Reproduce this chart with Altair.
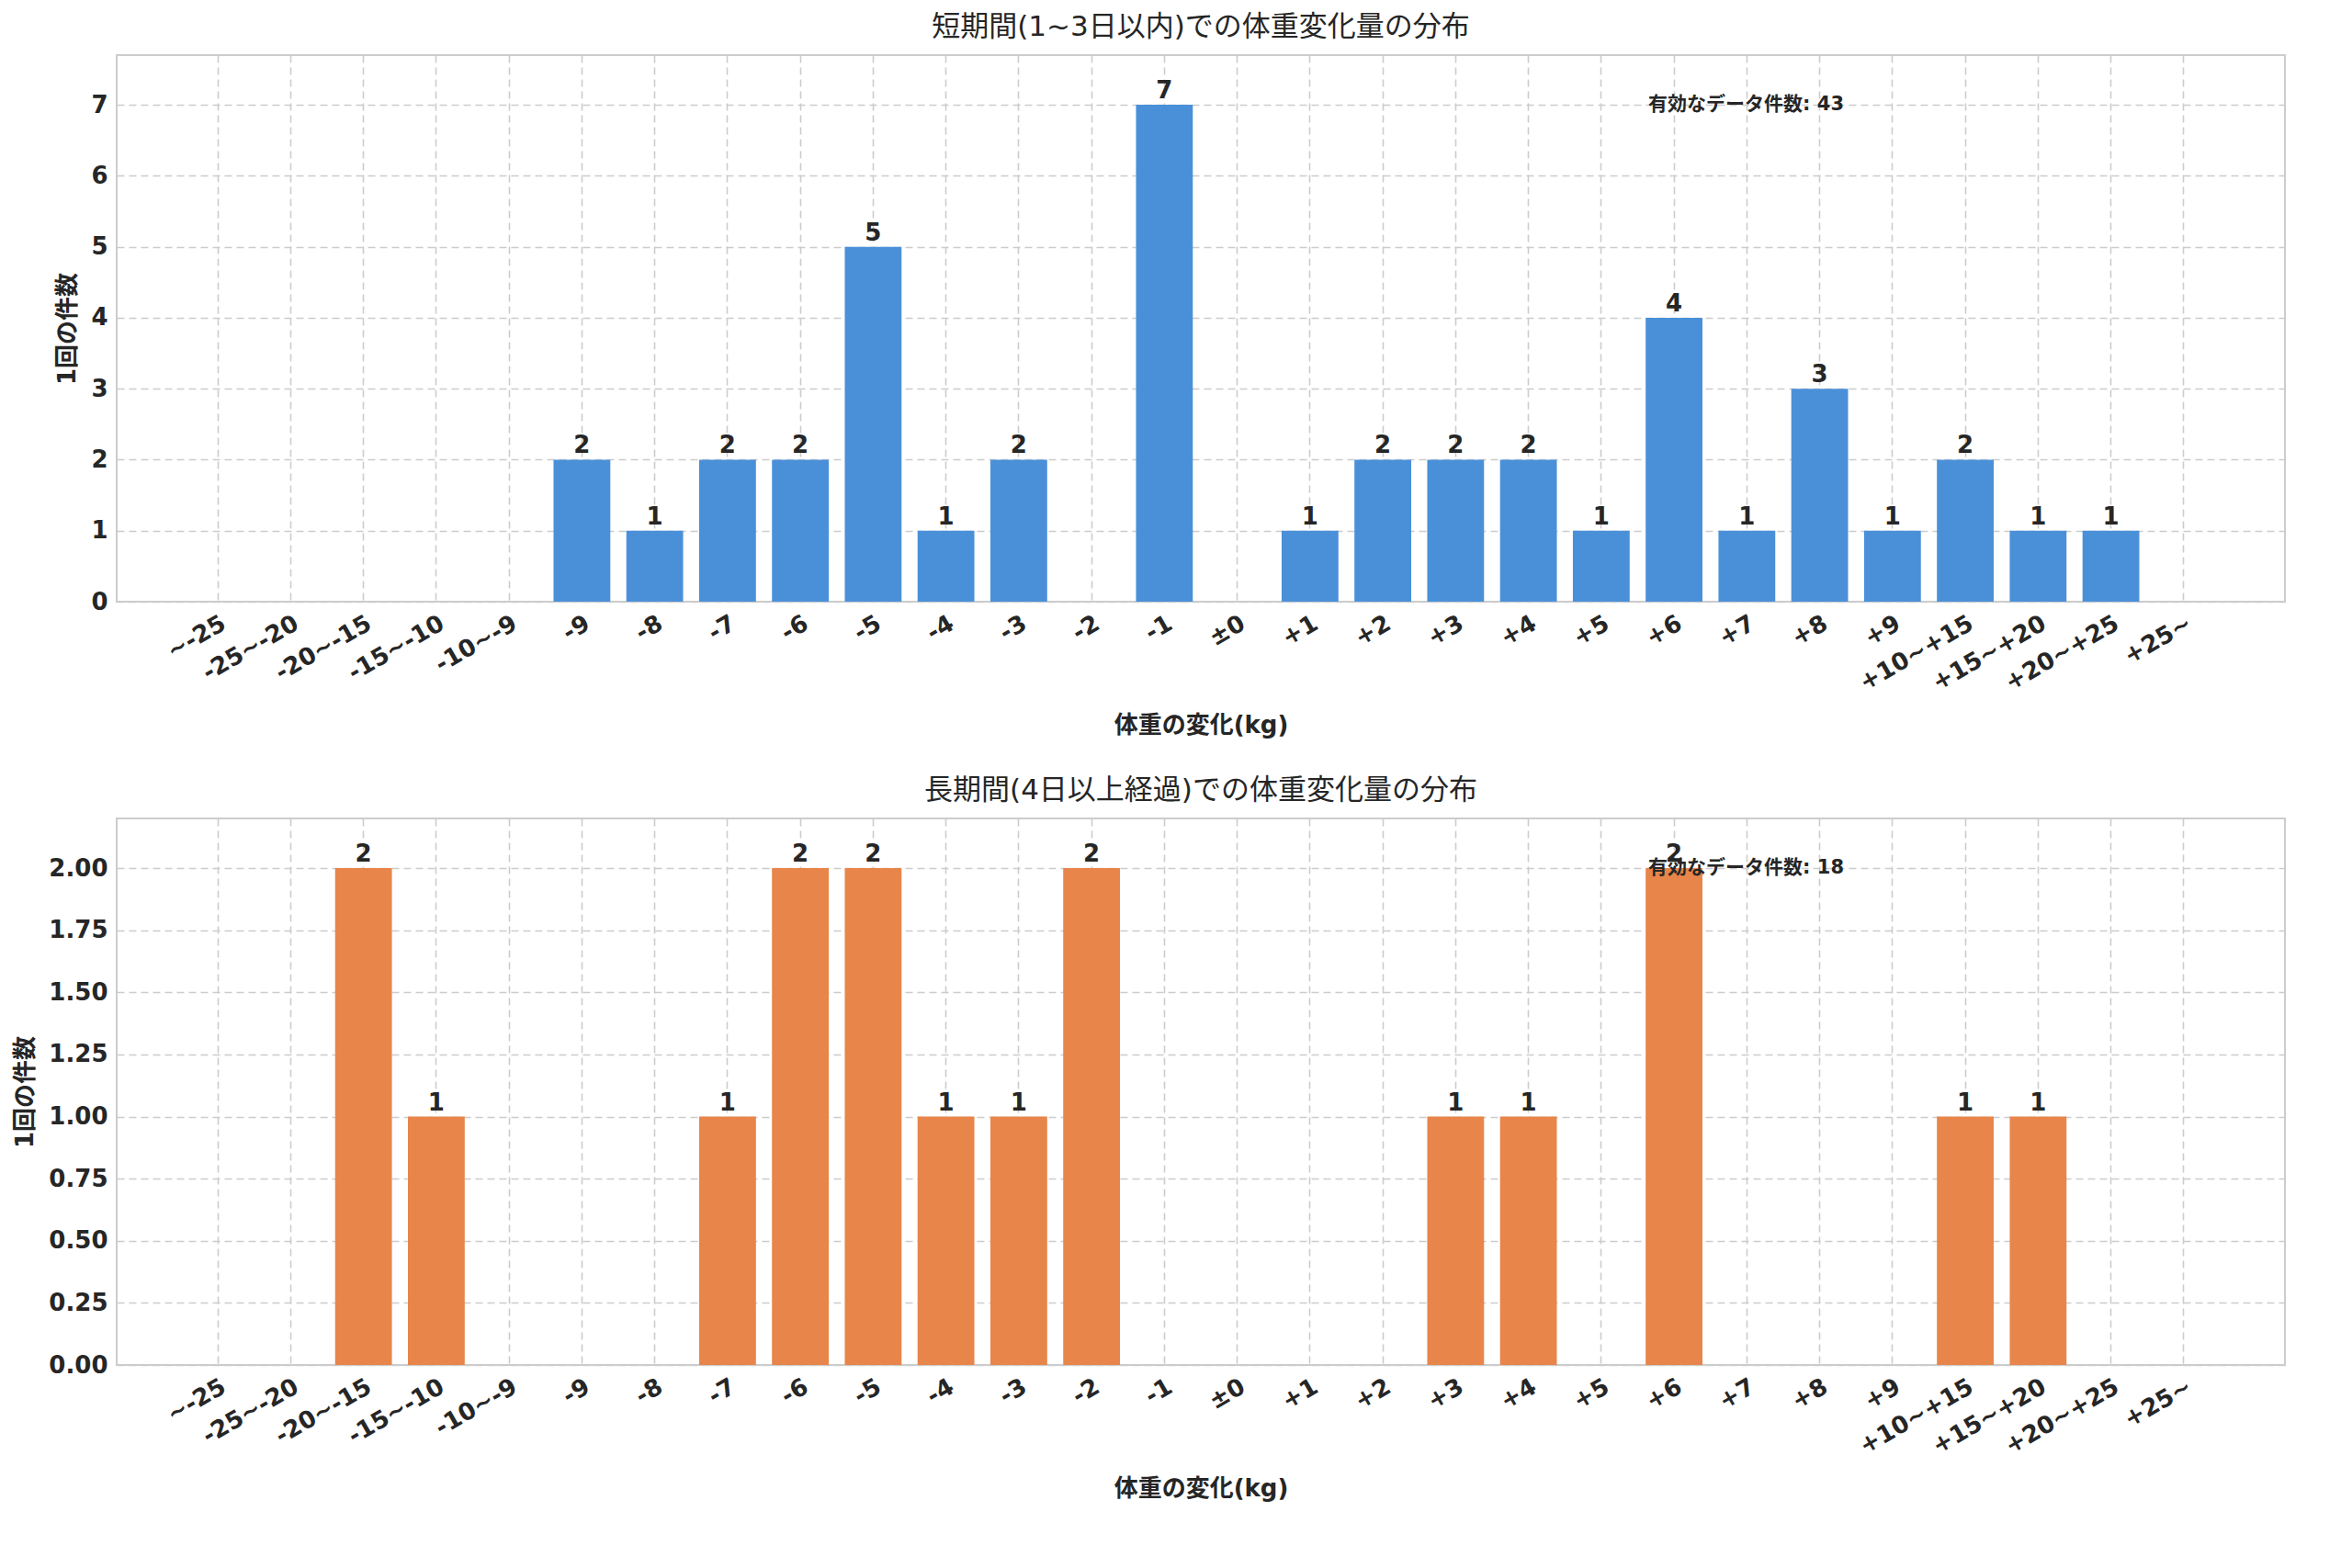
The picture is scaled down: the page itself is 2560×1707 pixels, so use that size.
import altair as alt
import pandas as pd

categories = ["~-25", "-25~-20", "-20~-15", "-15~-10", "-10~-9",
              "-9", "-8", "-7", "-6", "-5", "-4", "-3", "-2", "-1", "±0",
              "+1", "+2", "+3", "+4", "+5", "+6", "+7", "+8", "+9",
              "+10~+15", "+15~+20", "+20~+25", "+25~"]
short_counts = [0, 0, 0, 0, 0, 2, 1, 2, 2, 5, 1, 2, 0, 7, 0,
                1, 2, 2, 2, 1, 4, 1, 3, 1, 2, 1, 1, 0]
long_counts = [0, 0, 2, 1, 0, 0, 0, 1, 2, 2, 1, 1, 2, 0, 0,
               0, 0, 1, 1, 0, 2, 0, 0, 0, 1, 1, 0, 0]
short_total = 43
long_total = 18

FONT = "DejaVu Sans, Noto Sans CJK JP"


def panel(counts, total, color, title, ymax, tick_vals, fmt):
    df = pd.DataFrame({"cat": categories, "n": counts})
    nz = df[df["n"] > 0]
    x = alt.X("cat:N", sort=categories,
              scale=alt.Scale(domain=categories, paddingInner=0.22, paddingOuter=1.0),
              axis=alt.Axis(title="体重の変化(kg)", labelAngle=-30, labelAlign="right",
                            labelBaseline="top", labelFontSize=26, labelFontWeight="bold",
                            titleFontSize=26, titleFontWeight="bold", titlePadding=20,
                            ticks=False, labelPadding=10, grid=True))
    y = alt.Y("n:Q", scale=alt.Scale(domain=[0, ymax], nice=False),
              axis=alt.Axis(title="1回の件数", values=tick_vals, format=fmt,
                            labelFontSize=26, labelFontWeight="bold",
                            titleFontSize=26, titleFontWeight="bold", ticks=False,
                            labelPadding=10, titlePadding=12))
    bars = alt.Chart(nz).mark_bar(color=color).encode(x=x, y=y)
    labels = alt.Chart(nz).mark_text(fontSize=26, fontWeight="bold", dy=-2,
                                     baseline="bottom", color="#262626",
                                     font=FONT).encode(
        x=alt.X("cat:N", sort=categories), y="n:Q", text="n:Q")
    note = alt.Chart(pd.DataFrame({"t": [f"有効なデータ件数: {total}"],
                                   "v": [max(counts)]})).mark_text(
        fontSize=21, fontWeight="bold", align="left", baseline="middle",
        dx=-28, color="#262626", font=FONT).encode(
        x=alt.X(datum="+6"), y="v:Q", text="t:N")
    return alt.layer(bars, labels, note).properties(
        width=2360, height=595,
        title=alt.Title(title, fontSize=31, fontWeight="normal", color="#262626", offset=14))


top = panel(short_counts, short_total, "#4A90D9", "短期間(1~3日以内)での体重変化量の分布",
            7.7, [0, 1, 2, 3, 4, 5, 6, 7], "d")
bottom = panel(long_counts, long_total, "#E8854A", "長期間(4日以上経過)での体重変化量の分布",
               2.2, [0, 0.25, 0.5, 0.75, 1.0, 1.25, 1.5, 1.75, 2.0], ".2f")

chart = alt.vconcat(top, bottom, spacing=40).configure(font=FONT).configure_axis(
    gridColor="#cccccc", gridDash=[8, 5], gridWidth=1.6, domain=False,
    labelColor="#262626", titleColor="#262626",
).configure_view(stroke="#cccccc", strokeWidth=2)

chart.save("out.html", embed_options={"renderer": "svg", "actions": False})
